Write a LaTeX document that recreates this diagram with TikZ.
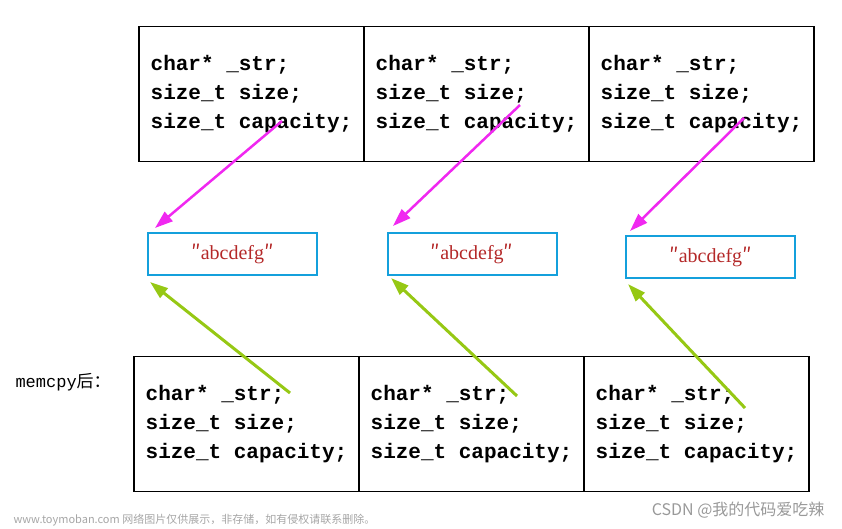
\documentclass[tikz,border=0pt]{standalone}
\usepackage{fontspec}
\setmonofont{Liberation Mono}
\newfontfamily\cjk{Noto Sans CJK SC}
\newfontfamily\strfont{Liberation Serif}
\usetikzlibrary{arrows.meta}
\definecolor{boxblue}{RGB}{20,160,220}
\definecolor{strred}{RGB}{180,40,40}
\definecolor{ptrpink}{RGB}{240,40,240}
\definecolor{ptrgreen}{RGB}{150,200,20}
\tikzset{
  cell/.style={draw=black, line width=1.6pt, minimum width=225pt, minimum height=135pt,
    inner sep=0pt, font=\fontsize{21}{29}\selectfont\ttfamily\bfseries, align=left},
  strbox/.style={draw=boxblue, line width=2pt, minimum width=169pt, minimum height=42pt,
    text=strred, font=\fontsize{20}{24}\selectfont\strfont},
  ptrtop/.style={ptrpink, line width=2.5pt, -{Triangle[length=18pt,width=12pt]}},
  ptrbot/.style={ptrgreen, line width=3pt, -{Triangle[length=18pt,width=12pt]}}
}
\newcommand{\dq}{{\cjk ″}}
\begin{document}
\begin{tikzpicture}[x=1pt,y=-1pt]
\useasboundingbox (0,0) rectangle (842,529);
% top row
\foreach \i/\x in {1/251.5,2/476.5,3/701.5}
  \node[cell] (top\i) at (\x,94) {char* \_str;\\size\_t size;\\size\_t capacity;};
% strings
\node[strbox] (s1) at (232.5,254) {\dq abcdefg\dq};
\node[strbox] (s2) at (472,254) {\dq abcdefg\dq};
\node[strbox] (s3) at (710.5,257) {\dq abcdefg\dq};
% bottom row
\foreach \i/\x in {1/246.5,2/471.5,3/696.5}
  \node[cell] (bot\i) at (\x,424) {char* \_str;\\size\_t size;\\size\_t capacity;};
\node[font=\fontsize{17}{20}\selectfont\ttfamily, anchor=west] (lbl) at (12,382) {memcpy{\cjk 后：}};
% pointers
\coordinate (p1) at (282,121); \coordinate (p2) at (520,105); \coordinate (p3) at (744,118);
\coordinate (q1) at (290,393); \coordinate (q2) at (517,396); \coordinate (q3) at (745,408);
\draw[ptrtop] (p1) -- (155,228);
\draw[ptrtop] (p2) -- (393,226);
\draw[ptrtop] (p3) -- (630,231);
\draw[ptrbot] (q1) -- (150,282);
\draw[ptrbot] (q2) -- (391,278);
\draw[ptrbot] (q3) -- (628,284);
% watermarks
\node[anchor=west, text=gray!70, font=\fontsize{11}{13}\selectfont\cjk] (wm) at (10,520) {www.toymoban.com 网络图片仅供展示，非存储，如有侵权请联系删除。};
\node[anchor=east, text=gray!80, font=\fontsize{16}{18}\selectfont\cjk] (csdn) at (828,510) {CSDN @我的代码爱吃辣};
\end{tikzpicture}
\end{document}
